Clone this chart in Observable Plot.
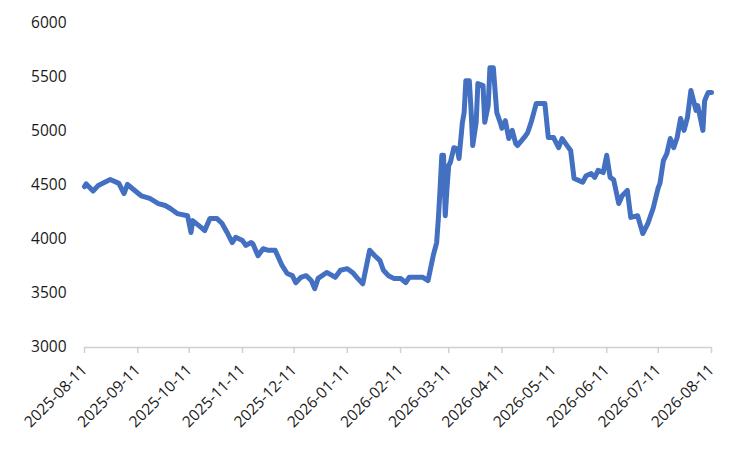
<!DOCTYPE html>
<html>
<head>
<meta charset="utf-8">
<script src="https://cdn.jsdelivr.net/npm/d3@7"></script>
<script src="https://cdn.jsdelivr.net/npm/@observablehq/plot@0.6"></script>
<style>
  html, body { margin: 0; padding: 0; background: #fff; }
  #chart svg { display: block; }
</style>
</head>
<body>
<div id="chart"></div>
<script>
const dates = [
  "2025-08-11","2025-08-12","2025-08-16","2025-08-19","2025-08-26","2025-08-31","2025-09-03","2025-09-05","2025-09-08","2025-09-13",
  "2025-09-18","2025-09-23","2025-09-27","2025-09-30","2025-10-04","2025-10-10","2025-10-12","2025-10-13","2025-10-18","2025-10-20",
  "2025-10-23","2025-10-27","2025-10-30","2025-11-02","2025-11-05","2025-11-07","2025-11-11","2025-11-13","2025-11-16","2025-11-17",
  "2025-11-20","2025-11-23","2025-11-26","2025-11-30","2025-12-04","2025-12-07","2025-12-10","2025-12-12","2025-12-15","2025-12-18",
  "2025-12-21","2025-12-23","2025-12-25","2025-12-30","2026-01-04","2026-01-07","2026-01-11","2026-01-14","2026-01-17","2026-01-20",
  "2026-01-24","2026-01-27","2026-01-30","2026-02-01","2026-02-04","2026-02-07","2026-02-11","2026-02-14","2026-02-16","2026-02-24",
  "2026-02-27","2026-03-02","2026-03-04","2026-03-05","2026-03-06","2026-03-07","2026-03-08","2026-03-09","2026-03-10","2026-03-11",
  "2026-03-12","2026-03-14","2026-03-16","2026-03-17","2026-03-19","2026-03-20","2026-03-21","2026-03-23","2026-03-24","2026-03-25",
  "2026-03-27","2026-03-28","2026-03-31","2026-04-01","2026-04-03","2026-04-04","2026-04-06","2026-04-08","2026-04-10","2026-04-11",
  "2026-04-13","2026-04-15","2026-04-17","2026-04-19","2026-04-20","2026-04-24","2026-04-26","2026-04-28","2026-05-01","2026-05-06",
  "2026-05-08","2026-05-11","2026-05-14","2026-05-16","2026-05-18","2026-05-21","2026-05-23","2026-05-26","2026-05-28","2026-05-30",
  "2026-06-02","2026-06-04","2026-06-06","2026-06-09","2026-06-11","2026-06-13","2026-06-15","2026-06-18","2026-06-20","2026-06-23",
  "2026-06-25","2026-06-29","2026-07-02","2026-07-05","2026-07-08","2026-07-11","2026-07-12","2026-07-14","2026-07-16","2026-07-18",
  "2026-07-20","2026-07-22","2026-07-24","2026-07-26","2026-07-28","2026-07-30","2026-08-02","2026-08-03","2026-08-06","2026-08-07",
  "2026-08-09","2026-08-11"
];
const values = [
  4490,4515,4450,4500,4555,4520,4425,4510,4470,4405,
  4380,4333,4315,4287,4240,4220,4065,4175,4110,4083,
  4195,4195,4150,4065,3972,4020,3990,3945,3972,3960,
  3850,3915,3900,3900,3760,3685,3665,3600,3650,3665,
  3620,3545,3640,3695,3650,3715,3730,3695,3640,3590,
  3900,3850,3805,3715,3665,3640,3640,3600,3650,3650,
  3620,3850,3972,4195,4470,4780,4780,4220,4470,4685,
  4715,4850,4840,4750,5085,5175,5470,5470,5210,4870,
  5085,5445,5425,5085,5240,5590,5590,5175,5085,5030,
  5100,4935,5010,4890,4870,4945,4990,5085,5260,5260,
  4945,4945,4850,4935,4890,4825,4565,4545,4530,4590,
  4610,4575,4640,4620,4780,4575,4555,4333,4405,4455,
  4205,4220,4055,4150,4287,4480,4520,4730,4795,4935,
  4850,4945,5120,5010,5130,5380,5195,5240,5010,5285,
  5360,5360
];
const xTickLabels = [
  "2025-08-11","2025-09-11","2025-10-11","2025-11-11","2025-12-11","2026-01-11",
  "2026-02-11","2026-03-11","2026-04-11","2026-05-11","2026-06-11","2026-07-11","2026-08-11"
];
const yTicks = [3000, 3500, 4000, 4500, 5000, 5500, 6000];

const parse = d3.utcParse("%Y-%m-%d");
const data = dates.map((d, i) => ({date: parse(d), value: values[i]}));
const xTicks = xTickLabels.map(parse);
const fmt = d3.utcFormat("%Y-%m-%d");

const chart = Plot.plot({
  width: 750,
  height: 450,
  marginLeft: 84,
  marginRight: 39,
  marginTop: 23,
  marginBottom: 103,
  style: {fontFamily: "'Open Sans', sans-serif", fontSize: "15.5px", color: "#1a1a1a", background: "#fff"},
  x: {type: "utc", domain: [xTicks[0], xTicks[xTicks.length - 1]]},
  y: {domain: [3000, 6000]},
  marks: [
    Plot.ruleY([3000], {stroke: "#d0d0d0", strokeWidth: 1.5}),
    Plot.axisY({ticks: yTicks, tickSize: 0, tickPadding: 18, label: null, tickFormat: d => String(d), fontSize: 15.5}),
    Plot.axisX({ticks: xTicks, tickSize: 6, tickPadding: 14, tickRotate: -45, label: null, tickFormat: fmt, stroke: "#d0d0d0", strokeWidth: 1.5, fontSize: 15.5}),
    Plot.lineY(data, {x: "date", y: "value", stroke: "#4470C2", strokeWidth: 5, strokeLinejoin: "round", strokeLinecap: "round"})
  ]
});
document.getElementById("chart").appendChild(chart);
</script>
</body>
</html>
